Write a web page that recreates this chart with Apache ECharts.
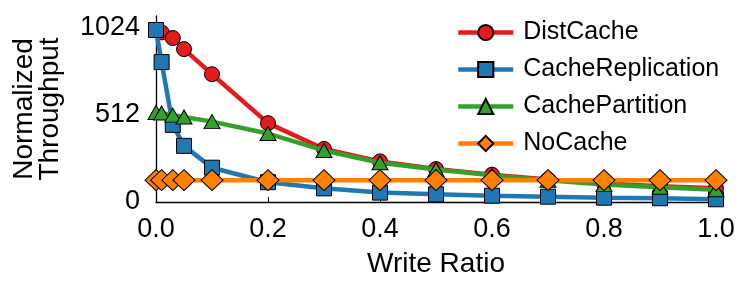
<!DOCTYPE html>
<html>
<head>
<meta charset="utf-8">
<script src="https://cdn.jsdelivr.net/npm/echarts@6/dist/echarts.min.js"></script>
<style>
html,body{margin:0;padding:0;background:#fff;}
#c{width:748px;height:292px;}
</style>
</head>
<body>
<div id="c"></div>
<script>
const writeRatio = [0, 0.01, 0.03, 0.05, 0.1, 0.2, 0.3, 0.4, 0.5, 0.6, 0.7, 0.8, 0.9, 1.0];
const distCache = [1008, 994, 961, 896, 749, 462, 311, 238, 193, 160, 132, 108, 92, 80];
const cacheReplication = [1008, 820, 452, 329, 201, 116, 80, 55, 45, 37, 31, 25, 22, 16];
const cachePartition = [525, 522, 509, 498, 471, 401, 302, 230, 190, 156, 127, 102, 86, 72];
const noCache = [128, 128, 128, 128, 128, 128, 128, 128, 128, 128, 128, 128, 128, 128];
const yTicks = [0, 512, 1024];
const seriesNames = ['DistCache', 'CacheReplication', 'CachePartition', 'NoCache'];

const FONT = 'Liberation Sans, Arial, Helvetica, sans-serif';
const pairs = vals => writeRatio.map((x, i) => [x, vals[i]]);

const styles = [
  {color: '#e41a1c', symbol: 'circle', size: 15},
  {color: '#1f78b4', symbol: 'rect', size: 15},
  {color: '#33a02c', symbol: 'triangle', size: [16, 14]},
  {color: '#ff7f00', symbol: 'diamond', size: [22, 21]}
];
const datas = [distCache, cacheReplication, cachePartition, noCache];

const chart = echarts.init(document.getElementById('c'), null, {renderer: 'canvas'});
chart.setOption({
  animation: false,
  backgroundColor: '#fff',
  textStyle: {fontFamily: FONT, color: '#000'},
  grid: {left: 156, right: 32, top: 16, bottom: 90, outerBoundsMode: 'none', containLabel: false},
  legend: {
    orient: 'vertical',
    left: 456,
    top: 20,
    padding: 0,
    itemWidth: 55,
    itemHeight: 19,
    itemGap: 12,
    data: seriesNames,
    lineStyle: {width: 4.5},
    textStyle: {fontFamily: FONT, fontSize: 25, color: '#000', padding: [0, 0, 0, 5]}
  },
  xAxis: {
    type: 'value',
    min: 0, max: 1, interval: 0.2,
    name: 'Write Ratio',
    nameLocation: 'middle',
    nameGap: 48,
    nameTextStyle: {fontFamily: FONT, fontSize: 28, color: '#000'},
    axisLine: {show: true, lineStyle: {color: '#000', width: 1.3}},
    axisTick: {show: true, inside: true, length: 5, lineStyle: {color: '#000', width: 1}},
    axisLabel: {fontFamily: FONT, fontSize: 27, color: '#000', margin: 14,
      formatter: v => v.toFixed(1)},
    splitLine: {show: false}
  },
  yAxis: {
    type: 'value',
    min: 0, max: 1090,
    name: 'Normalized\nThroughput',
    nameLocation: 'middle',
    nameRotate: 90,
    nameGap: 93,
    nameTextStyle: {fontFamily: FONT, fontSize: 28, lineHeight: 26, color: '#000', align: 'center'},
    axisLine: {show: true, lineStyle: {color: '#000', width: 1.3}},
    axisTick: {show: true, inside: true, length: 5, customValues: yTicks, lineStyle: {color: '#000', width: 1}},
    axisLabel: {fontFamily: FONT, fontSize: 27, color: '#000', margin: 16, customValues: yTicks,
      formatter: v => String(v)},
    splitLine: {show: false}
  },
  series: seriesNames.map((name, i) => ({
    name: name,
    type: 'line',
    z: 2 + i,
    data: pairs(datas[i]),
    symbol: styles[i].symbol,
    symbolSize: styles[i].size,
    showAllSymbol: true,
    lineStyle: {color: styles[i].color, width: 4.5},
    itemStyle: {color: styles[i].color, borderColor: '#000', borderWidth: 1, opacity: 1},
    emphasis: {disabled: true}
  }))
});
</script>
</body>
</html>
